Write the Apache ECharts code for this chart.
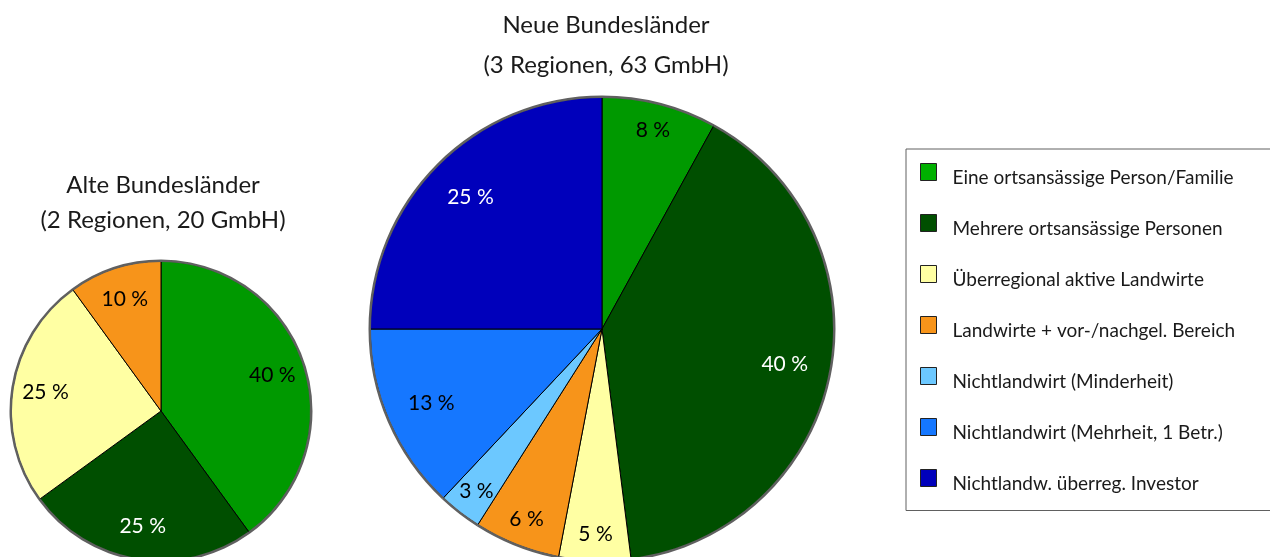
<!DOCTYPE html>
<html><head><meta charset="utf-8">
<script src="https://cdn.jsdelivr.net/npm/echarts@6/dist/echarts.min.js"></script>
<style>html,body{margin:0;padding:0;background:#fff}#c{width:1270px;height:557px}</style>
</head><body><div id="c"></div>
<script>
const categories = [
  'Eine ortsansässige Person/Familie',
  'Mehrere ortsansässige Personen',
  'Überregional aktive Landwirte',
  'Landwirte + vor-/nachgel. Bereich',
  'Nichtlandwirt (Minderheit)',
  'Nichtlandwirt (Mehrheit, 1 Betr.)',
  'Nichtlandw. überreg. Investor'
];
const altCategories = categories.slice(0, 4);
const altValues = [40, 25, 25, 10];
const neueValues = [8, 40, 5, 6, 3, 13, 25];
const altTitle = 'Alte Bundesländer\n(2 Regionen, 20 GmbH)';
const neueTitle = 'Neue Bundesländer\n(3 Regionen, 63 GmbH)';

const colors = {
  'Eine ortsansässige Person/Familie': '#009900',
  'Mehrere ortsansässige Personen': '#004f00',
  'Überregional aktive Landwirte': '#ffffa3',
  'Landwirte + vor-/nachgel. Bereich': '#f7941a',
  'Nichtlandwirt (Minderheit)': '#6cc8ff',
  'Nichtlandwirt (Mehrheit, 1 Betr.)': '#1577ff',
  'Nichtlandw. überreg. Investor': '#0000bb'
};
const legendColors = Object.assign({}, colors, {'Eine ortsansässige Person/Familie': '#00b000'});
const whiteText = new Set(['Mehrere ortsansässige Personen', 'Nichtlandw. überreg. Investor']);
const FONT = 'Lato, "Open Sans", sans-serif';

function mainData(names, vals) {
  return names.map((n, i) => ({name: n, value: vals[i], itemStyle: {color: colors[n]}}));
}
function labelData(names, vals, pick) {
  return names.map((n, i) => ({
    name: n, value: vals[i],
    itemStyle: {color: 'rgba(0,0,0,0)'},
    label: {show: pick(vals[i]), color: whiteText.has(n) ? '#ffffff' : '#000000'}
  }));
}
function pieBase(center, radius, data, extra) {
  return Object.assign({
    type: 'pie', center: center, radius: radius, data: data,
    startAngle: 90, clockwise: true, avoidLabelOverlap: false,
    label: {show: false}, labelLine: {show: false},
    emphasis: {disabled: true}, silent: true
  }, extra || {});
}
function ring(center, radius, names, vals) {
  return pieBase(center, radius, names.map((n, i) => ({name: n, value: vals[i]})), {
    itemStyle: {color: '#606060', borderWidth: 0}
  });
}
function labels(center, radius, names, vals, pick) {
  return pieBase(center, radius, labelData(names, vals, pick), {
    itemStyle: {borderWidth: 0},
    label: {show: true, position: 'inside', formatter: '{c} %', fontFamily: FONT, fontSize: 21}
  });
}

const altC = [161, 411], neueC = [602, 329];
const chart = echarts.init(document.getElementById('c'));
chart.setOption({
  animation: false,
  backgroundColor: '#ffffff',
  title: [
    {text: altTitle, left: 158, top: 163, textAlign: 'center',
     textStyle: {fontFamily: FONT, fontSize: 24, fontWeight: 'normal', color: '#1a1a1a', lineHeight: 35}},
    {text: neueTitle, left: 601, top: 0, textAlign: 'center',
     textStyle: {fontFamily: FONT, fontSize: 24, fontWeight: 'normal', color: '#1a1a1a', lineHeight: 40}}
  ],
  legend: {
    orient: 'vertical', left: 906, top: 149,
    padding: [14, 110, 17, 14],
    borderColor: '#606060', borderWidth: 1,
    itemWidth: 16, itemHeight: 17, itemGap: 26.5,
    icon: 'rect',
    itemStyle: {borderColor: '#222', borderWidth: 1},
    formatter: n => '{t|' + n + '}',
    textStyle: {fontFamily: FONT, fontSize: 19, color: '#1a1a1a',
      rich: {t: {fontFamily: FONT, fontSize: 19, color: '#1a1a1a', padding: [12, 0, 0, 11]}}},
    data: categories.map(n => ({name: n, itemStyle: {color: legendColors[n]}})),
    selectedMode: false
  },
  series: [
    pieBase(altC, [0, 150], mainData(altCategories, altValues), {itemStyle: {borderColor: '#000', borderWidth: 1}}),
    pieBase(neueC, [0, 232], mainData(categories, neueValues), {itemStyle: {borderColor: '#000', borderWidth: 1}}),
    ring(altC, [149, 151.5], altCategories, altValues),
    ring(neueC, [231, 233.5], categories, neueValues),
    labels(altC, [78, 150], altCategories, altValues, v => true),
    labels(neueC, [134, 232], categories, neueValues, v => v >= 10),
    labels(neueC, [172, 232], categories, neueValues, v => v < 10)
  ]
});
</script></body></html>
